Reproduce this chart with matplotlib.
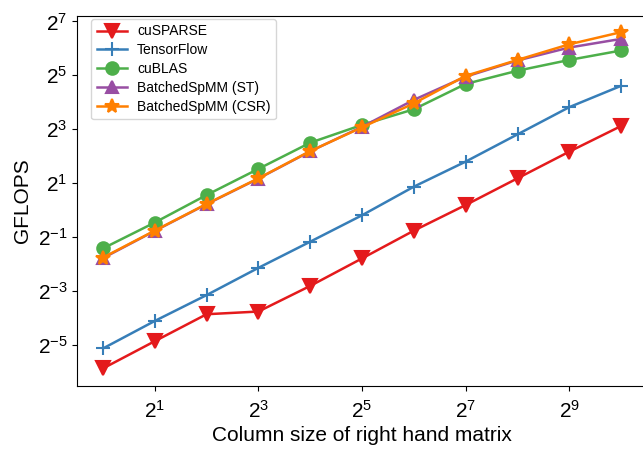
import numpy as np
from matplotlib import pyplot as plt
from matplotlib.ticker import NullLocator

plt.rcParams['font.family'] = ['Liberation Sans', 'DejaVu Sans']
plt.rcParams['mathtext.fontset'] = 'stixsans'
plt.rcParams['axes.unicode_minus'] = False

# column sizes of right hand matrix, 2^0 .. 2^10
col_sizes = [1, 2, 4, 8, 16, 32, 64, 128, 256, 512, 1024]

# GFLOPS as log2 values
cusparse_log2 = [-5.87, -4.86, -3.86, -3.76, -2.81, -1.79, -0.76, 0.19, 1.18, 2.17, 3.12]
tensorflow_log2 = [-5.13, -4.11, -3.15, -2.14, -1.17, -0.19, 0.87, 1.80, 2.81, 3.82, 4.61]
cublas_log2 = [-1.42, -0.46, 0.56, 1.53, 2.50, 3.16, 3.74, 4.68, 5.17, 5.57, 5.92]
st_log2 = [-1.78, -0.77, 0.22, 1.17, 2.18, 3.09, 4.09, 4.95, 5.55, 6.03, 6.35]
csr_log2 = [-1.76, -0.76, 0.23, 1.18, 2.19, 3.07, 3.96, 4.98, 5.57, 6.15, 6.60]

series = [
    ("cuSPARSE", cusparse_log2, "#e41a1c", "v", 10),
    ("TensorFlow", tensorflow_log2, "#377eb8", "+", 10),
    ("cuBLAS", cublas_log2, "#4daf4a", "o", 9),
    ("BatchedSpMM (ST)", st_log2, "#984ea3", "^", 9),
    ("BatchedSpMM (CSR)", csr_log2, "#ff7f00", "*", 10),
]

fig = plt.figure(figsize=(6.43, 4.5), dpi=100)
ax = fig.add_axes([0.1198, 0.1429, 0.8865, 0.8216])

for name, vals, color, marker, ms in series:
    ax.plot(col_sizes, 2.0 ** np.array(vals), color=color, marker=marker,
            markersize=ms, linewidth=1.8, markeredgewidth=1.5, label=name)

ax.set_xscale('log', base=2)
ax.set_yscale('log', base=2)
ax.set_xticks([2, 8, 32, 128, 512])
ax.set_yticks([2.0 ** p for p in [-5, -3, -1, 1, 3, 5, 7]])
ax.xaxis.set_minor_locator(NullLocator())
ax.yaxis.set_minor_locator(NullLocator())
ax.set_xlim(2 ** -0.5, 2 ** 10.5)
ax.set_ylim(2 ** -6.51, 2 ** 7.2)
ax.tick_params(labelsize=15)
ax.tick_params(axis='x', pad=7)

ax.set_xlabel("Column size of right hand matrix", fontsize=15, labelpad=3)
ax.set_ylabel("GFLOPS", fontsize=15)
ax.legend(loc='upper left', bbox_to_anchor=(0.0246, 0.992), borderaxespad=0,
          fontsize=10, labelspacing=0.35, handlelength=2.2, handletextpad=0.7)

fig.savefig("out.png", dpi=100)
